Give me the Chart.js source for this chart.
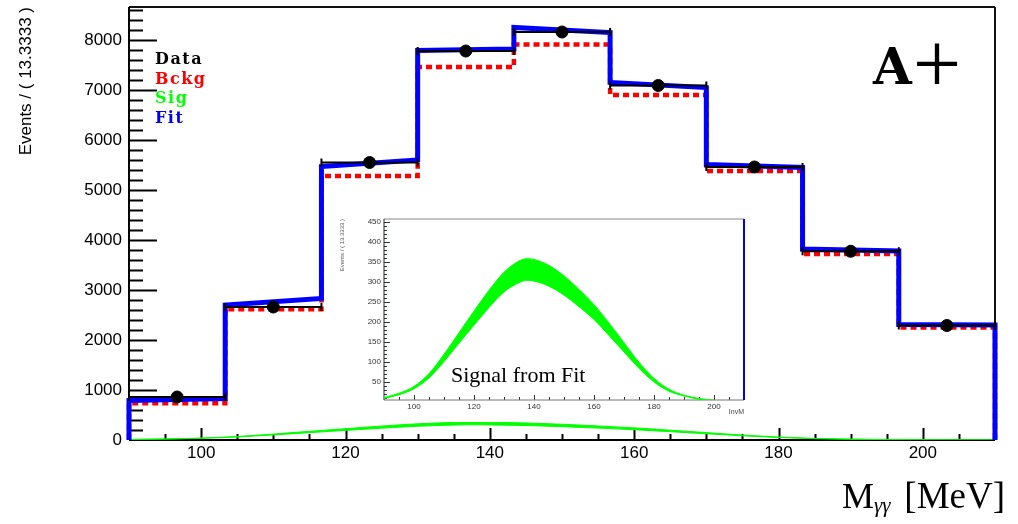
<!DOCTYPE html>
<html>
<head>
<meta charset="utf-8">
<title>M_gg fit A+</title>
<script src="https://cdn.jsdelivr.net/npm/chart.js@4.4.1/dist/chart.umd.min.js"></script>
<style>
html, body { margin: 0; padding: 0; background: #fff; }
#wrap { position: relative; width: 1018px; height: 524px; overflow: hidden; background: #fff; }
#main { position: absolute; left: 0; top: 0; }
#inset { position: absolute; left: 335px; top: 210px; background: #fff; }
</style>
</head>
<body>
<div id="wrap">
  <canvas id="main" width="1018" height="524"></canvas>
  <canvas id="inset" width="420" height="212"></canvas>
</div>
<script>
// 9 bins of 13.3333 MeV between 90 and 210
const binEdges = [90, 103.333, 116.667, 130, 143.333, 156.667, 170, 183.333, 196.667, 210];
const binCenters = [96.667, 110, 123.333, 136.667, 150, 163.333, 176.667, 190, 203.333];
const dataCounts = [860, 2660, 5550, 7780, 8160, 7090, 5460, 3775, 2290];
const bckgCounts = [735, 2615, 5280, 7460, 7910, 6900, 5380, 3720, 2250];
// fit curve, value at left and right edge of each bin
const fitLeft = [790, 2700, 5470, 7790, 8250, 7150, 5510, 3820, 2310];
const fitRight = [830, 2830, 5600, 7820, 8150, 7050, 5450, 3780, 2300];

// signal from fit (error band)
const sigX = [90, 95, 100, 105, 110, 115, 120, 125, 130, 135, 137.5, 140, 145, 150, 155, 160, 165, 170, 175, 180, 185, 190, 195, 200, 205, 210];
const sigLow = [9, 18, 33, 60, 101, 147, 192, 236, 275, 298, 304, 302, 289, 267, 238, 206, 166, 125, 84, 50, 27, 15, 7, 4, 2, 1];
const sigHigh = [11, 22, 39, 71, 119, 173, 227, 279, 324, 352, 358, 356, 341, 315, 281, 243, 197, 148, 99, 59, 32, 17, 9, 4, 2, 1];

const xTicks = [100, 120, 140, 160, 180, 200];
const yTicksMain = [0, 1000, 2000, 3000, 4000, 5000, 6000, 7000, 8000];
const yTicksInset = [50, 100, 150, 200, 250, 300, 350, 400, 450];

const legendLabels = ['Data', 'Bckg', 'Sig', 'Fit'];
const legendColors = ['#000000', '#ff0000', '#00ff00', '#0000ff'];

Chart.defaults.animation = false;
Chart.defaults.font.family = '"Liberation Sans", Arial, sans-serif';
Chart.defaults.color = '#000';

const pt = (xs, ys) => xs.map((x, i) => ({x: x, y: ys[i]}));
const plain = v => String(v);

function stepPath(left, right) {
  const pts = [{x: binEdges[0], y: 0}];
  left.forEach((v, i) => {
    pts.push({x: binEdges[i], y: v});
    pts.push({x: binEdges[i + 1], y: right[i]});
  });
  pts.push({x: binEdges[binEdges.length - 1], y: 0});
  return pts;
}

// horizontal error bars (bin width), broken between bins
const errPts = [];
dataCounts.forEach((v, i) => {
  errPts.push({x: binEdges[i], y: v}, {x: binEdges[i + 1], y: v}, {x: binEdges[i + 1], y: null});
});

// no extra room for the outer tick labels
const noPad = s => { s.paddingTop = 0; s.paddingBottom = 0; s.paddingLeft = 0; s.paddingRight = 0; };

// ROOT style ticks inside the frame + frame lines
const axisDecor = {
  id: 'axisDecor',
  beforeDatasetsDraw(chart, args, o) {
    const {ctx, chartArea: a, scales: {x, y}} = chart;
    ctx.save();
    ctx.lineWidth = o.tickWidth;
    ctx.strokeStyle = o.tickColor;
    ctx.beginPath();
    for (let v = o.yStep; v <= y.max; v += o.yStep) {
      const len = (v % o.yMajor === 0) ? o.yLong : o.yShort;
      const py = Math.round(y.getPixelForValue(v)) + 0.5;
      ctx.moveTo(a.left, py); ctx.lineTo(a.left + len, py);
    }
    for (let v = x.min + o.xStep; v < x.max; v += o.xStep) {
      const len = (v % o.xMajor === 0) ? o.xLong : o.xShort;
      const px = Math.round(x.getPixelForValue(v)) + 0.5;
      ctx.moveTo(px, a.bottom); ctx.lineTo(px, a.bottom - len);
    }
    ctx.stroke();
    const f = o.frame;
    const side = (col, w, x1, y1, x2, y2) => {
      ctx.beginPath(); ctx.strokeStyle = col; ctx.lineWidth = w;
      ctx.moveTo(x1, y1); ctx.lineTo(x2, y2); ctx.stroke();
    };
    side(f.top, f.width, a.left, a.top, a.right, a.top);
    side(f.bottom, f.width, a.left, a.bottom, a.right, a.bottom);
    side(f.left, f.width, a.left, a.top, a.left, a.bottom);
    side(f.right, f.rightWidth || f.width, a.right, a.top, a.right, a.bottom);
    ctx.restore();
  }
};

const mainText = {
  id: 'mainText',
  afterDraw(chart) {
    const ctx = chart.ctx;
    ctx.save();
    ctx.textBaseline = 'alphabetic';
    ctx.textAlign = 'left';
    ctx.font = 'bold 16px "DejaVu Serif"';
    ctx.letterSpacing = '1.5px';
    legendLabels.forEach((t, i) => {
      ctx.fillStyle = legendColors[i];
      ctx.fillText(t, 155, 64 + i * 19.6);
    });
    ctx.letterSpacing = '0px';
    ctx.fillStyle = '#000';
    ctx.font = 'bold 50px "DejaVu Serif"';
    ctx.fillText('A', 873, 84);
    ctx.font = '86px "Liberation Serif"';
    ctx.textAlign = 'center';
    ctx.fillText('+', 937, 93);
    // x axis title
    ctx.textAlign = 'left';
    ctx.font = '36px "Liberation Serif"';
    ctx.fillText('M', 842, 508);
    ctx.font = 'italic 21px "Liberation Serif"';
    ctx.fillText('γγ', 874, 512);
    ctx.textAlign = 'right';
    ctx.font = '37px "Liberation Serif"';
    ctx.fillText('[MeV]', 1005, 508);
    ctx.restore();
  }
};

const insetText = {
  id: 'insetText',
  afterDatasetsDraw(chart) {
    const ctx = chart.ctx;
    ctx.save();
    ctx.fillStyle = '#000';
    ctx.font = '22px "Liberation Serif"';
    ctx.textBaseline = 'alphabetic';
    ctx.fillText('Signal from Fit', 116, 172);
    ctx.restore();
  }
};

new Chart(document.getElementById('main'), {
  type: 'line',
  data: {
    datasets: [
      { label: 'Data', data: pt(binCenters, dataCounts), showLine: false,
        pointRadius: 6, pointHoverRadius: 6, backgroundColor: '#000', borderColor: '#000' },
      { label: 'Data err', data: errPts, borderColor: '#000', borderWidth: 2, spanGaps: false,
        pointStyle: 'line', rotation: 90, pointRadius: 4, pointBorderColor: '#000', pointBorderWidth: 2, clip: false },
      { label: 'Fit', data: stepPath(fitLeft, fitRight), borderColor: '#0000ff', borderWidth: 5,
        borderJoinStyle: 'miter', pointRadius: 0, clip: false },
      { label: 'Bckg', data: stepPath(bckgCounts, bckgCounts), borderColor: '#ff0000', borderWidth: 4.5,
        borderDash: [6, 4], borderJoinStyle: 'miter', pointRadius: 0, clip: false },
      { label: 'Sig', data: pt(sigX, sigHigh), borderColor: '#00ff00', backgroundColor: '#00ff00',
        borderWidth: 1, fill: '+1', pointRadius: 0, cubicInterpolationMode: 'monotone' },
      { label: 'Sig low', data: pt(sigX, sigLow), borderColor: '#00ff00', borderWidth: 1,
        pointRadius: 0, cubicInterpolationMode: 'monotone' }
    ]
  },
  options: {
    responsive: false,
    layout: { padding: { left: 0, right: 23, top: 7, bottom: 0 } },
    plugins: {
      legend: { display: false },
      tooltip: { enabled: false },
      axisDecor: { tickWidth: 2, tickColor: '#000', yStep: 200, yMajor: 1000, yLong: 28, yShort: 14,
        xStep: 5, xMajor: 20, xLong: 12, xShort: 6,
        frame: { top: '#111', bottom: '#000', left: '#000', right: '#111', width: 2 } }
    },
    scales: {
      x: {
        type: 'linear', min: 90, max: 210,
        grid: { display: false, drawTicks: false }, border: { display: false },
        afterBuildTicks: s => { s.ticks = xTicks.map(v => ({value: v})); },
        afterFit: s => { s.height = 84; noPad(s); },
        ticks: { font: { size: 17 }, color: '#000', padding: 3, autoSkip: false, maxRotation: 0, callback: plain }
      },
      y: {
        min: 0, max: 8660,
        grid: { display: false, drawTicks: false }, border: { display: false },
        afterBuildTicks: s => { s.ticks = yTicksMain.map(v => ({value: v})); },
        afterFit: s => { s.width = 129; noPad(s); },
        ticks: { font: { size: 17 }, color: '#000', padding: 7, callback: plain },
        title: { display: true, text: 'Events / ( 13.3333 )', align: 'end', color: '#000',
          font: { size: 17 }, padding: { top: 16, bottom: 0 } }
      }
    }
  },
  plugins: [axisDecor, mainText]
});

new Chart(document.getElementById('inset'), {
  type: 'line',
  data: {
    datasets: [
      { label: 'Sig', data: pt(sigX, sigHigh), borderColor: '#00ff00', backgroundColor: '#00ff00',
        borderWidth: 1, fill: '+1', pointRadius: 0, cubicInterpolationMode: 'monotone' },
      { label: 'Sig low', data: pt(sigX, sigLow), borderColor: '#00ff00', borderWidth: 1,
        pointRadius: 0, cubicInterpolationMode: 'monotone' }
    ]
  },
  options: {
    responsive: false,
    layout: { padding: { left: 0, right: 11, top: 9, bottom: 0 } },
    plugins: {
      legend: { display: false },
      tooltip: { enabled: false },
      axisDecor: { tickWidth: 1, tickColor: '#333', yStep: 10, yMajor: 50, yLong: 6, yShort: 3,
        xStep: 5, xMajor: 20, xLong: 5, xShort: 3,
        frame: { top: '#888', bottom: '#777', left: '#223', right: '#0000ff', width: 1, rightWidth: 2 } }
    },
    scales: {
      x: {
        type: 'linear', min: 90, max: 210,
        grid: { display: false, drawTicks: false }, border: { display: false },
        afterBuildTicks: s => { s.ticks = xTicks.map(v => ({value: v})); },
        afterFit: s => { s.height = 22; noPad(s); },
        ticks: { font: { size: 8 }, color: '#333', padding: 2, autoSkip: false, maxRotation: 0, callback: plain },
        title: { display: true, text: 'InvM', align: 'end', color: '#444', font: { size: 7 },
          padding: { top: 0, bottom: 6 } }
      },
      y: {
        min: 5, max: 457,
        grid: { display: false, drawTicks: false }, border: { display: false },
        afterBuildTicks: s => { s.ticks = yTicksInset.map(v => ({value: v})); },
        afterFit: s => { s.width = 49; noPad(s); },
        ticks: { font: { size: 8 }, color: '#333', padding: 3, callback: plain },
        title: { display: true, text: 'Events / ( 13.3333 )', align: 'end', color: '#555',
          font: { size: 6 }, padding: { top: 4, bottom: 0 } }
      }
    }
  },
  plugins: [axisDecor, insetText]
});
</script>
</body>
</html>
